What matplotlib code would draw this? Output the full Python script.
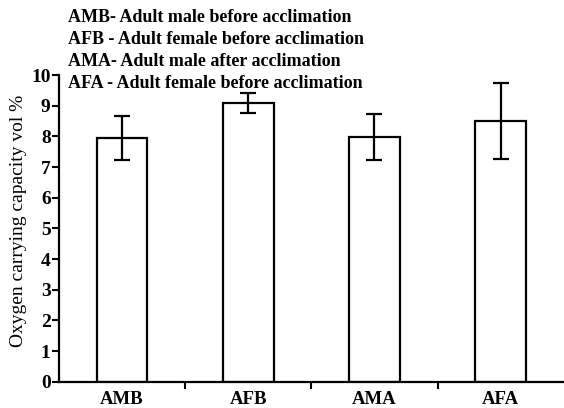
import matplotlib
matplotlib.use("Agg")
import matplotlib.pyplot as plt
import numpy as np

categories = ["AMB", "AFB", "AMA", "AFA"]
values = [7.95, 9.08, 7.98, 8.50]
errors = [0.72, 0.32, 0.74, 1.25]
legend_lines = [
    "AMB- Adult male before acclimation",
    "AFB - Adult female before acclimation",
    "AMA- Adult male after acclimation",
    "AFA - Adult female before acclimation",
]
yticks = list(range(0, 11))

plt.rcParams['font.family'] = ['Liberation Serif', 'DejaVu Serif']

fig = plt.figure(figsize=(5.64, 4.08), dpi=100)
ax = fig.add_axes([0.1046, 0.0645, 0.895, 0.7515])

x = np.arange(len(categories))
ax.bar(x, values, width=0.4, color='white', edgecolor='black', linewidth=1.6, zorder=2)
ax.errorbar(x, values, yerr=errors, fmt='none', ecolor='black', elinewidth=1.6,
            capsize=5.5, capthick=1.6, zorder=3)

ax.set_xlim(-0.5, 3.5)
ax.set_ylim(0, 10)
ax.set_yticks(yticks)
ax.set_yticklabels([str(t) for t in yticks], fontsize=14, fontweight='bold')
ax.set_xticks(x)
ax.set_xticklabels(categories, fontsize=13.5, fontweight='bold')
ax.tick_params(axis='x', which='major', length=0, pad=6.5)
ax.set_xticks([0.5, 1.5, 2.5], minor=True)
ax.tick_params(axis='x', which='minor', length=5, width=1.5, direction='out')
ax.tick_params(axis='y', length=5, width=1.5, direction='out', pad=1)

for s in ['top', 'right']:
    ax.spines[s].set_visible(False)
for s in ['left', 'bottom']:
    ax.spines[s].set_linewidth(1.6)

ax.set_ylabel("Oxygen carrying capacity vol %", fontsize=14)
ax.yaxis.set_label_coords(-0.064, 0.525)

for i, line in enumerate(legend_lines):
    fig.text(68/564, 1 - (21.5 + 22*i)/408, line, fontsize=13, fontweight='bold',
             ha='left', va='baseline')

fig.savefig("out.png", dpi=100)
